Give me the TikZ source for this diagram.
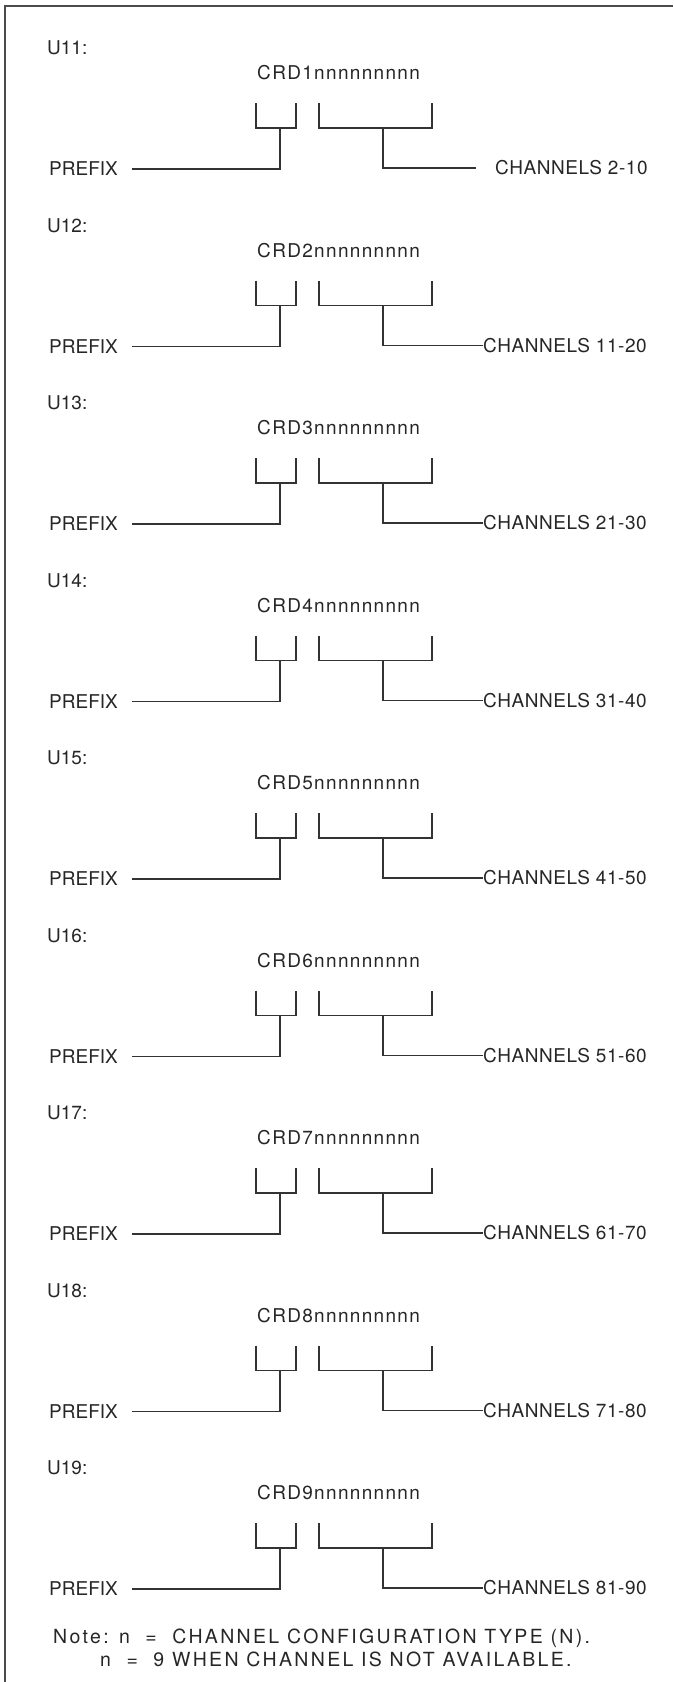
\documentclass[tikz,border=0pt]{standalone}
\usepackage{fontspec}
\setmainfont{TeX Gyre Heros}
\newcommand{\wideA}{\addfontfeatures{LetterSpace=7}}
\newcommand{\wideB}{\addfontfeatures{LetterSpace=3}}
\newcommand{\wideC}{\addfontfeatures{LetterSpace=12}}
\tikzset{
  lbl/.style={font=\fontsize{19}{21}\selectfont, inner sep=0pt, anchor=west, text=black!85},
  crd/.style={lbl, font=\fontsize{19}{21}\selectfont\wideA},
  chn/.style={lbl, font=\fontsize{19}{21}\selectfont\wideB},
  note/.style={lbl, font=\fontsize{19.5}{21}\selectfont\wideC},
  ln/.style={line width=1.4pt, black!80},
  border/.style={line width=1.8pt, black!70}
}
\begin{document}
\begin{tikzpicture}[x=1pt,y=-1pt]
\useasboundingbox (0,0) rectangle (673,1682);
\coordinate (bTL) at (5,6);
\coordinate (bTR) at (673,6);
\coordinate (bBL) at (5,1682);
\draw[border] (bTR) -- (bTL) -- (bBL);
\foreach \i/\r/\cx/\g [evaluate=\i as \b using {48+177.5*(\i-1)}] in
  {1/2-10/495/19, 2/11-20/483/0, 3/21-30/483/0, 4/31-40/483/0, 5/41-50/483/0,
   6/51-60/483/0, 7/61-70/483/0, 8/71-80/483/0, 9/81-90/483/0} {
  \node[lbl] (u\i) at (47,\b) {U1\i:};
  \node[crd] (c\i) at (257,\b+25) {CRD\i nnnnnnnnn};
  % left bracket
  \coordinate (la\i) at (256,\b+55);
  \coordinate (lb\i) at (256,\b+80);
  \coordinate (lc\i) at (296,\b+80);
  \coordinate (ld\i) at (296,\b+55);
  \coordinate (lm\i) at (280,\b+80);
  \draw[ln] (la\i) -- (lb\i) -- (lc\i) -- (ld\i);
  % right bracket
  \coordinate (ra\i) at (319,\b+55);
  \coordinate (rb\i) at (319,\b+80);
  \coordinate (rc\i) at (432,\b+80);
  \coordinate (rd\i) at (432,\b+55);
  \coordinate (rm\i) at (383,\b+80);
  \draw[ln] (ra\i) -- (rb\i) -- (rc\i) -- (rd\i);
  % labels
  \node[lbl] (p\i) at (49,\b+121) {PREFIX};
  \node[chn] (ch\i) at (\cx,\b+120) {CHANNELS \r};
  % connectors
  \draw[ln] ([xshift=14pt]p\i.east) -- (p\i.east -| lm\i) -- (lm\i);
  \draw[ln] (rm\i) |- ([xshift=-\g pt]ch\i.west);
}
\node[note] (n1) at (53,1638) {Note: n \ = \ CHANNEL CONFIGURATION TYPE (N).};
\node[note] (n2) at (100,1659) {n \ = \ 9 WHEN CHANNEL IS NOT AVAILABLE.};
\end{tikzpicture}
\end{document}
